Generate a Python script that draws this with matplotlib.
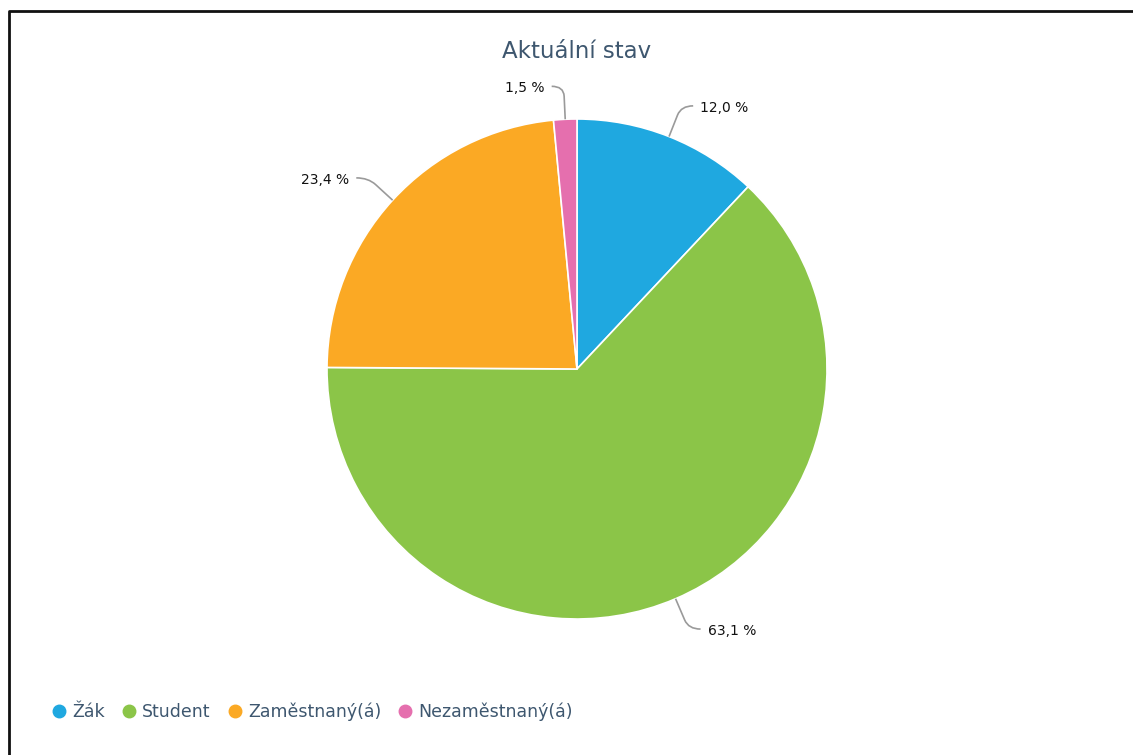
import numpy as np
import matplotlib
matplotlib.use("Agg")
import matplotlib.pyplot as plt
from matplotlib.path import Path
from matplotlib.patches import PathPatch
from matplotlib.lines import Line2D

# data
categories = ["Žák", "Student", "Zaměstnaný(á)", "Nezaměstnaný(á)"]
shares = [12.0, 63.1, 23.4, 1.5]
colors = ["#1FA8E0", "#8BC548", "#FBA924", "#E56FAE"]
title = "Aktuální stav"

W, H = 1133, 755
fig = plt.figure(figsize=(W / 100, H / 100), dpi=100)
ax = fig.add_axes([0, 0, 1, 1])

cx, cy, r = 577, H - 369, 250

wedges, _ = ax.pie(shares, colors=colors, startangle=90, counterclock=False,
                   center=(cx, cy), radius=r, frame=True,
                   wedgeprops=dict(edgecolor="white", linewidth=1.2))
ax.set_xlim(0, W)
ax.set_ylim(0, H)
ax.set_aspect("equal")
ax.axis("off")

# labels with curved connectors
total = sum(shares)
cum = 0
for v in shares:
    mid = 90 - (cum + v / 2) / total * 360
    cum += v
    t = np.deg2rad(mid)
    ux, uy = np.cos(t), np.sin(t)
    side = 1 if ux >= 0 else -1
    a = (cx + r * ux, cy + r * uy)
    b = (cx + (r + 33) * ux, cy + (r + 33) * uy)
    m = (a[0] + 0.7 * (b[0] - a[0]), a[1] + 0.7 * (b[1] - a[1]))
    c = (b[0] + 12 * side, b[1])
    path = Path([a, m, b, c], [Path.MOVETO, Path.LINETO, Path.CURVE3, Path.CURVE3])
    ax.add_patch(PathPatch(path, fill=False, edgecolor="#9a9a9a", linewidth=1.2))
    txt = f"{v:.1f} %".replace(".", ",")
    ax.text(c[0] + 7 * side, c[1] - 2, txt, fontsize=10, color="#111111",
            ha="left" if side > 0 else "right", va="center")

fig.text(577 / W, 1 - 51 / H, title, fontsize=16.5, color="#3E576F",
         ha="center", va="center")

handles = [Line2D([], [], marker="o", linestyle="", markersize=9,
                  markerfacecolor=col, markeredgecolor=col) for col in colors]
fig.legend(handles, categories, loc="center left", bbox_to_anchor=(40 / W, 1 - 712 / H),
           ncol=4, frameon=False, fontsize=12.5, handletextpad=0.05,
           columnspacing=0.7, handlelength=1.4, labelcolor="#3E576F", borderaxespad=0)

# frame (left and top edges only are visible in the original crop)
fig.add_artist(Line2D([9 / W, 9 / W, 1], [0, 1 - 11 / H, 1 - 11 / H],
                      transform=fig.transFigure, color="#111111", linewidth=2))

fig.savefig("out.png", dpi=100, facecolor="white")
